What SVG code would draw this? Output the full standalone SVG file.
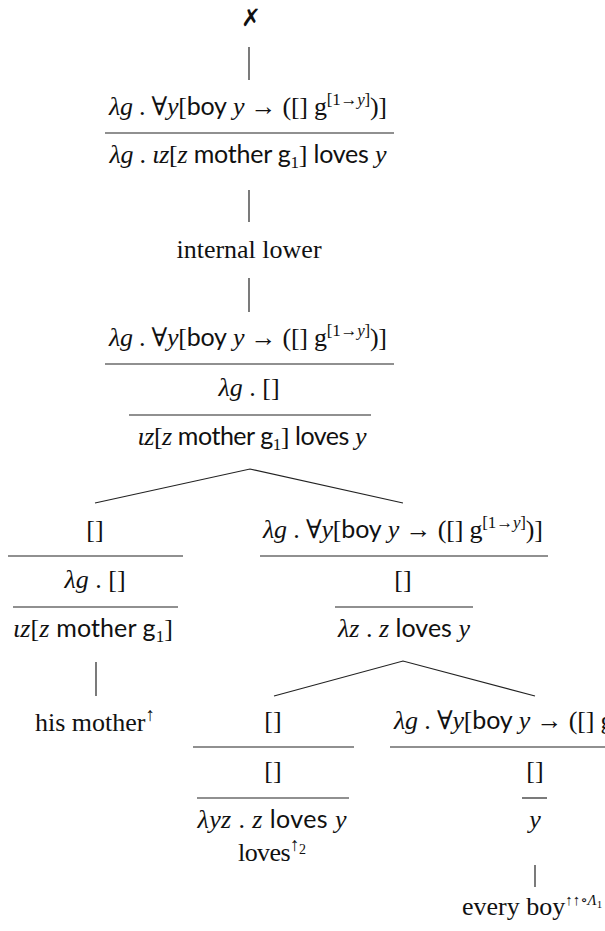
<svg xmlns="http://www.w3.org/2000/svg" width="605" height="931" viewBox="0 0 605 931">
<style>
text{font-family:"Liberation Serif","DejaVu Serif",serif;font-size:26px;fill:#111;text-anchor:middle}
.i{font-style:italic}
.s{font-family:Lato,"Liberation Sans",sans-serif;font-size:25px;font-style:normal}
.sup{font-size:17px}
.x{font-family:"DejaVu Sans",sans-serif;font-size:24px;font-weight:bold}
line,polyline{stroke:#222;stroke-width:1.2;fill:none}
</style>
<g id="connectors">
<line x1="249" y1="47" x2="249" y2="80"/>
<line x1="249" y1="190" x2="249" y2="222"/>
<line x1="249" y1="278" x2="249" y2="312"/>
<polyline points="95,503 250,469 403,503"/>
<line x1="96" y1="662" x2="96" y2="696"/>
<polyline points="274,696 403,661 535,696"/>
<line x1="535" y1="865" x2="535" y2="887"/>
</g>
<g id="result">
<text class="x" x="251" y="26">✗</text>
</g>
<g id="node-top">
<text x="248" y="115" textLength="278"><tspan class="i">λg</tspan> . ∀<tspan class="i">y</tspan>[<tspan class="s">boy</tspan> <tspan class="i">y</tspan> → ([] g<tspan class="sup" dy="-10">[1→</tspan><tspan class="sup i">y</tspan><tspan class="sup">]</tspan><tspan dy="10">)]</tspan></text>
<line x1="105" y1="133" x2="394" y2="133"/>
<text x="248" y="163" textLength="277"><tspan class="i">λg</tspan> . <tspan class="i">ιz</tspan>[<tspan class="i">z</tspan> <tspan class="s">mother g</tspan><tspan class="sup" dy="5">1</tspan><tspan dy="-5">] </tspan><tspan class="s">loves</tspan> <tspan class="i">y</tspan></text>
</g>
<g id="node-internal-lower">
<text x="249" y="258">internal lower</text>
</g>
<g id="node-root">
<text x="248" y="346" textLength="278"><tspan class="i">λg</tspan> . ∀<tspan class="i">y</tspan>[<tspan class="s">boy</tspan> <tspan class="i">y</tspan> → ([] g<tspan class="sup" dy="-10">[1→</tspan><tspan class="sup i">y</tspan><tspan class="sup">]</tspan><tspan dy="10">)]</tspan></text>
<line x1="105" y1="364" x2="394" y2="364"/>
<text x="249" y="396"><tspan class="i">λg</tspan> . []</text>
<line x1="129" y1="415" x2="371" y2="415"/>
<text x="252" y="445" textLength="229"><tspan class="i">ιz</tspan>[<tspan class="i">z</tspan> <tspan class="s">mother g</tspan><tspan class="sup" dy="5">1</tspan><tspan dy="-5">] </tspan><tspan class="s">loves</tspan> <tspan class="i">y</tspan></text>
</g>
<g id="node-his-mother">
<text x="95" y="538">[]</text>
<line x1="8" y1="556" x2="183" y2="556"/>
<text x="95" y="588"><tspan class="i">λg</tspan> . []</text>
<line x1="13" y1="607" x2="178" y2="607"/>
<text x="93" y="637" textLength="160"><tspan class="i">ιz</tspan>[<tspan class="i">z</tspan> <tspan class="s">mother g</tspan><tspan class="sup" dy="5">1</tspan><tspan dy="-5">]</tspan></text>
<text x="95" y="731">his mother<tspan font-size="19" dy="-10">↑</tspan></text>
</g>
<g id="node-vp">
<text x="403" y="538" textLength="280"><tspan class="i">λg</tspan> . ∀<tspan class="i">y</tspan>[<tspan class="s">boy</tspan> <tspan class="i">y</tspan> → ([] g<tspan class="sup" dy="-10">[1→</tspan><tspan class="sup i">y</tspan><tspan class="sup">]</tspan><tspan dy="10">)]</tspan></text>
<line x1="260" y1="556" x2="548" y2="556"/>
<text x="403" y="588">[]</text>
<line x1="335" y1="607" x2="473" y2="607"/>
<text x="404" y="637" textLength="132"><tspan class="i">λz</tspan> . <tspan class="i">z</tspan> <tspan class="s">loves</tspan> <tspan class="i">y</tspan></text>
</g>
<g id="node-loves">
<text x="273" y="729">[]</text>
<line x1="193" y1="747" x2="354" y2="747"/>
<text x="273" y="779">[]</text>
<line x1="197" y1="798" x2="349" y2="798"/>
<text x="272" y="828" textLength="149"><tspan class="i">λyz</tspan> . <tspan class="i">z</tspan> <tspan class="s">loves</tspan> <tspan class="i">y</tspan></text>
<text x="272" y="861" textLength="68">loves<tspan font-size="19" dy="-10">↑</tspan><tspan font-size="14" dy="3">2</tspan></text>
</g>
<g id="node-every-boy">
<text x="534" y="729" textLength="280"><tspan class="i">λg</tspan> . ∀<tspan class="i">y</tspan>[<tspan class="s">boy</tspan> <tspan class="i">y</tspan> → ([] g<tspan class="sup" dy="-10">[1→</tspan><tspan class="sup i">y</tspan><tspan class="sup">]</tspan><tspan dy="10">)]</tspan></text>
<line x1="390" y1="747" x2="605" y2="747"/>
<text x="535" y="779">[]</text>
<line x1="522" y1="798" x2="547" y2="798"/>
<text x="535" y="828" class="i">y</text>
<text x="462" y="915" style="text-anchor:start">every boy<tspan font-size="15" dy="-10">↑↑∘</tspan><tspan font-size="15" class="i">Λ</tspan><tspan font-size="11" dy="3">1</tspan></text>
</g>
</svg>
